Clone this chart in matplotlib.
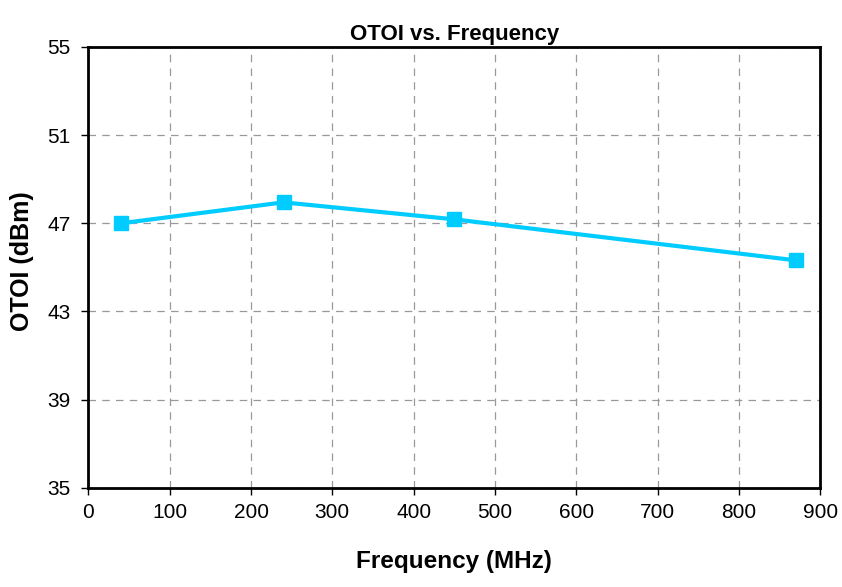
import matplotlib
matplotlib.use("Agg")
import matplotlib.pyplot as plt

freq = [40, 240, 450, 870]
otoi = [47.0, 47.95, 47.18, 45.32]
xticks = [0, 100, 200, 300, 400, 500, 600, 700, 800, 900]
yticks = [35, 39, 43, 47, 51, 55]

plt.rcParams['font.family'] = ['Liberation Sans', 'DejaVu Sans']
fig = plt.figure(figsize=(8.42, 5.87), dpi=100)
ax = fig.add_axes([0.105, 0.169, 0.869, 0.751])
ax.plot(freq, otoi, color='#00CCFF', lw=3, marker='s', ms=10, zorder=3)
ax.set_xlim(0, 900)
ax.set_ylim(35, 55)
ax.set_xticks(xticks)
ax.set_yticks(yticks)
ax.grid(True, color='#999999', ls=(0, (6, 5)), lw=0.9)
for s in ax.spines.values():
    s.set_linewidth(2)
ax.tick_params(direction='out', length=5, width=1, labelsize=15, pad=6)
ax.tick_params(axis='y', pad=8)
ax.set_title('OTOI vs. Frequency', fontsize=16, fontweight='bold', pad=5)
ax.set_xlabel('Frequency (MHz)', fontsize=17.5, fontweight='bold', labelpad=20)
ax.set_ylabel('OTOI (dBm)', fontsize=18, fontweight='bold')
ax.yaxis.set_label_coords(-0.074, 0.515)
fig.savefig('out.png', dpi=100)
